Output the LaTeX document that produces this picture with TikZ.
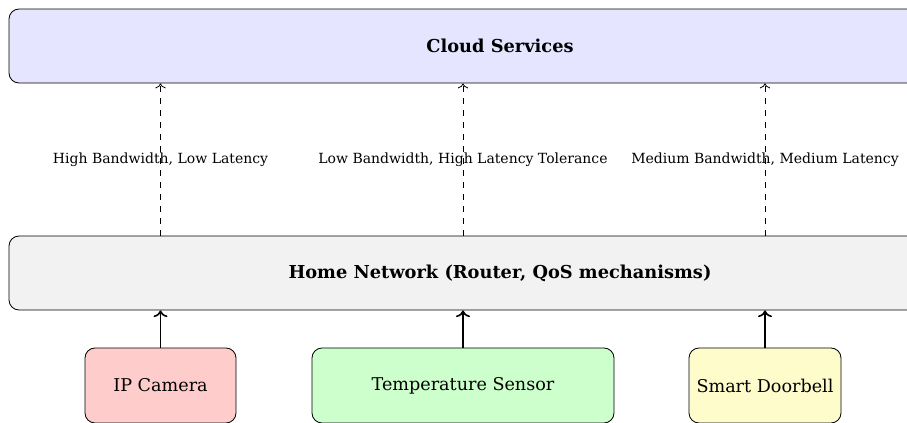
\documentclass[tikz,border=0pt]{standalone}
\usepackage{fontspec}
\setmainfont{DejaVu Serif}
\usepackage{xcolor}
\usetikzlibrary{arrows.meta, positioning}
\begin{document}
\begin{tikzpicture}[
  x=0.5pt, y=-0.5pt,
  font=\fontsize{8.8}{10}\selectfont,
  layer/.style={rectangle, rounded corners=5pt, draw=black,
                minimum width=491pt, minimum height=37pt, align=center,
                font=\fontsize{8.9}{10}\selectfont\bfseries},
  dev/.style={rectangle, rounded corners=5pt, draw=black, inner xsep=2pt,
              minimum height=37.5pt, align=center},
  up/.style={->, thick},
  flow/.style={->, dashed},
  lbl/.style={font=\scriptsize, midway, inner sep=1pt}
]
%% page frame (reference is cut at right and bottom)
\useasboundingbox (0,0) rectangle (907,423);
\clip (0,0) rectangle (907,423);
%% layers
\node[layer, fill=blue!10] (cloud) at (500, 46)  {Cloud Services};
\node[layer, fill=gray!10] (home)  at (500, 273) {Home Network (Router, QoS mechanisms)};
%% devices
\node[dev, fill=red!20,    minimum width=75.5pt] (cam)  at (160.5, 385.5) {IP Camera};
\node[dev, fill=green!20,  minimum width=151pt]  (temp) at (463,   385.5) {Temperature Sensor};
\node[dev, fill=yellow!20, minimum width=76pt]   (bell) at (765,   385.5) {Smart Doorbell};
%% device -> router
\draw[up] (cam.north)  -- (cam.north  |- home.south);
\draw[up] (temp.north) -- (temp.north |- home.south);
\draw[up] (bell.north) -- (bell.north |- home.south);
%% router -> cloud
\draw[flow] (cam.north  |- home.north) -- (cam.north  |- cloud.south)
    node[lbl] {High Bandwidth, Low Latency};
\draw[flow] (temp.north |- home.north) -- (temp.north |- cloud.south)
    node[lbl] {Low Bandwidth, High Latency Tolerance};
\draw[flow] (bell.north |- home.north) -- (bell.north |- cloud.south)
    node[lbl] {Medium Bandwidth, Medium Latency};
\end{tikzpicture}
\end{document}
